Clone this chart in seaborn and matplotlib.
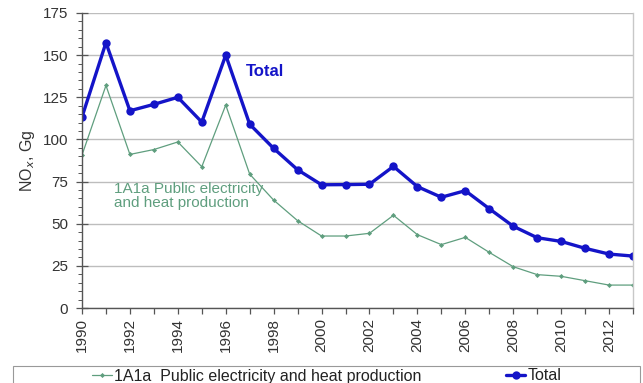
import matplotlib
matplotlib.use("Agg")
import matplotlib.pyplot as plt
from matplotlib.patches import Rectangle
from matplotlib.ticker import MultipleLocator
import pandas as pd
import seaborn as sns

years = list(range(1990, 2014))
total = [113.3, 157.4, 117.0, 120.8, 125.0, 110.3, 150.0, 109.0, 94.7, 82.0,
         73.1, 73.2, 73.4, 84.0, 72.0, 65.7, 69.6, 58.9, 48.5, 41.7,
         39.5, 35.4, 32.0, 30.8]
public_power = [90.7, 132.0, 91.1, 94.0, 98.5, 83.8, 120.4, 79.4, 64.0, 51.8,
                42.7, 42.7, 44.3, 55.0, 43.5, 37.6, 41.9, 33.0, 24.5, 19.8,
                18.8, 16.2, 13.6, 13.6]
series_names = ["1A1a  Public electricity and heat production", "Total"]
y_ticks = [0, 25, 50, 75, 100, 125, 150, 175]

sns.set_theme(style="white")
plt.rcParams["font.family"] = ["Liberation Sans", "DejaVu Sans"]

df = pd.DataFrame({
    "year": years * 2,
    "value": public_power + total,
    "series": [series_names[0]] * len(years) + [series_names[1]] * len(years),
})

green = "#5f9e7e"
blue = "#1414c8"
text_col = "#333333"

fig = plt.figure(figsize=(6.43, 3.83), dpi=100)
ax = fig.add_axes([82 / 643, 1 - 308 / 383, 551 / 643, 295 / 383])

sns.lineplot(data=df[df.series == series_names[0]], x="year", y="value",
             color=green, lw=0.9, marker="D", markersize=2.6,
             markeredgewidth=0, ax=ax, label=series_names[0])
sns.lineplot(data=df[df.series == series_names[1]], x="year", y="value",
             color=blue, lw=2.4, marker="o", markersize=6,
             markeredgewidth=0, ax=ax, label=series_names[1])

ax.set_xlim(1990, 2013)
ax.set_ylim(0, 175)
ax.set_yticks(y_ticks)
ax.yaxis.set_minor_locator(MultipleLocator(5))
ax.xaxis.set_major_locator(MultipleLocator(2))
ax.xaxis.set_minor_locator(MultipleLocator(1))
ax.grid(axis="y", color="#bdbdbd", lw=1.0)
ax.set_axisbelow(True)

ax.spines["top"].set_visible(False)
ax.spines["right"].set_color("#c8c8c8")
ax.spines["left"].set_color("#555555")
ax.spines["bottom"].set_color("#555555")
for s in ("left", "bottom", "right"):
    ax.spines[s].set_linewidth(1.0)

ax.tick_params(axis="y", which="major", direction="inout", length=8, width=0.9,
               color="#555555", labelsize=11, labelcolor=text_col, pad=6, left=True)
ax.tick_params(axis="y", which="minor", direction="out", length=3, width=0.7,
               color="#555555", left=True)
ax.tick_params(axis="x", which="both", direction="out", length=4, width=0.9,
               color="#555555", bottom=True)
ax.tick_params(axis="x", which="major", labelsize=11, labelcolor=text_col,
               labelrotation=90, pad=3)

ax.set_xlabel("")
ax.set_ylabel("NO$_x$, Gg", fontsize=11.5, color=text_col, labelpad=4)

ax.text(1991.35, 75, "1A1a Public electricity\nand heat production",
        color=green, fontsize=11, va="top", ha="left", linespacing=1.0)
ax.text(1996.85, 140, "Total", color=blue, fontsize=12, fontweight="bold",
        va="center", ha="left")

handles, labels = ax.get_legend_handles_labels()
ax.get_legend().remove()
fig.legend(handles, labels, loc="center", bbox_to_anchor=(327 / 643, 1 - 376 / 383),
           ncol=2, frameon=False, fontsize=11.5, handlelength=1.2,
           columnspacing=5.3, handletextpad=0.15, labelcolor="#222222",
           borderpad=0, borderaxespad=0)
fig.patches.append(Rectangle((13 / 643, -0.05), 627 / 643, 0.05 + 1 - 366 / 383,
                             transform=fig.transFigure, fill=False,
                             edgecolor="#999999", lw=0.8))

fig.savefig("out.png", dpi=100)
